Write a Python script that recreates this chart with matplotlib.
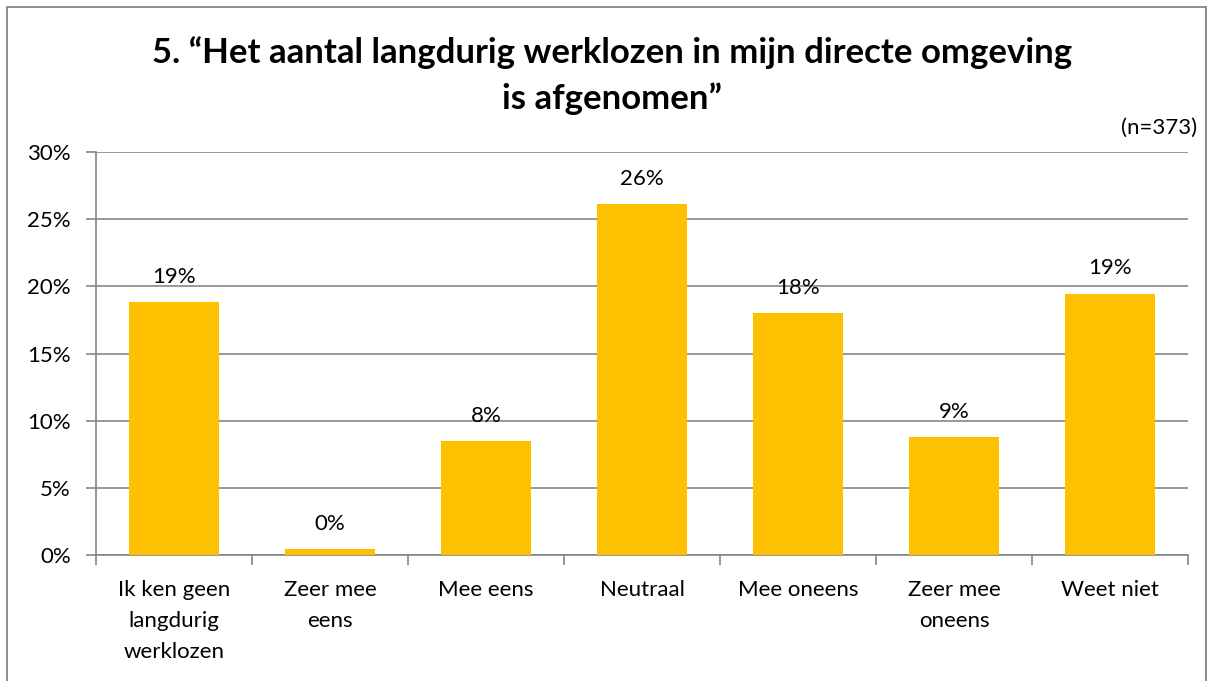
import matplotlib
matplotlib.use("Agg")
import matplotlib.pyplot as plt
from matplotlib.patches import Rectangle
from matplotlib.ticker import FuncFormatter

categories = ["Ik ken geen\nlangdurig\nwerklozen", "Zeer mee\neens", "Mee eens", "Neutraal",
              "Mee oneens", "Zeer mee\noneens", "Weet niet"]
values = [18.8, 0.45, 8.5, 26.1, 18.0, 8.75, 19.45]
labels = ["19%", "0%", "8%", "26%", "18%", "9%", "19%"]
yticks = [0, 5, 10, 15, 20, 25, 30]

plt.rcParams['font.family'] = ['Lato', 'DejaVu Sans']
W, H = 1212, 681
fig = plt.figure(figsize=(W / 100, H / 100), dpi=100)

gray = '#868686'
fs = 16
# outer frame
fig.patches.append(Rectangle((7 / W, -0.05), (1206 - 7) / W, (H - 7) / H + 0.05,
                             transform=fig.transFigure, fill=False, edgecolor=gray, lw=1.3))

ax = fig.add_axes([96 / W, (H - 555) / H, (1188 - 96) / W, (555 - 152) / H])
x = list(range(len(categories)))
ax.bar(x, values, width=0.58, color='#FFC000', zorder=3)
ax.set_xlim(-0.5, len(categories) - 0.5)
ax.set_ylim(0, 30)
ax.set_yticks(yticks)
ax.yaxis.set_major_formatter(FuncFormatter(lambda v, p: f"{int(v)}%"))
ax.grid(axis='y', color=gray, lw=1.2, zorder=0)
for s in ['top', 'right']:
    ax.spines[s].set_visible(False)
for s in ['left', 'bottom']:
    ax.spines[s].set_color(gray)
    ax.spines[s].set_linewidth(1.2)
ax.tick_params(axis='y', length=7, color=gray, width=1.2, labelsize=fs, pad=11)
ax.set_xticks([i - 0.5 for i in range(len(categories) + 1)])
ax.set_xticklabels([])
ax.tick_params(axis='x', length=7, color=gray, width=1.2)
for i, c in enumerate(categories):
    ax.text(i, -1.85, c, ha='center', va='top', fontsize=fs, linespacing=1.7,
            transform=ax.transData)
for i, (v, l) in enumerate(zip(values, labels)):
    ax.annotate(l, (i, v), xytext=(0, 11), textcoords='offset points', ha='center',
                va='bottom', fontsize=fs)

fig.text(612 / W, 1 - 53 / H, "5. \u201cHet aantal langdurig werklozen in mijn directe omgeving",
         ha='center', va='center', fontsize=25, fontweight='bold')
fig.text(612 / W, 1 - 99 / H, "is afgenomen\u201d", ha='center', va='center',
         fontsize=25, fontweight='bold')
fig.text(1197 / W, 1 - 128 / H, "(n=373)", ha='right', va='center', fontsize=fs)

fig.savefig('out.png', dpi=100)
